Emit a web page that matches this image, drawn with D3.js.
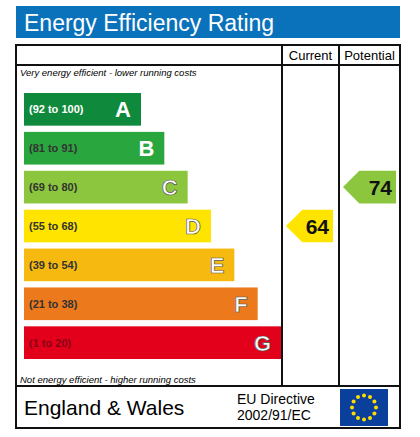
<!DOCTYPE html>
<html><head><meta charset="utf-8">
<script src="https://cdn.jsdelivr.net/npm/d3@7"></script>
<style>body{margin:0;background:#fff}svg{font-family:"Liberation Sans",Arial,sans-serif}</style>
</head><body>
<script>
// bands
const bands = ["A", "B", "C", "D", "E", "F", "G"];
const ranges = ["(92 to 100)", "(81 to 91)", "(69 to 80)", "(55 to 68)", "(39 to 54)", "(21 to 38)", "(1 to 20)"];
const bandMin = [92, 81, 69, 55, 39, 21, 1];
const colors = ["#0f8a3c", "#2aa63f", "#8cc63e", "#ffe400", "#f5b90f", "#ec7a1c", "#e2001a"];
const current = 64;
const potential = 74;

const width = 420, height = 437;
const svg = d3.select("body").append("svg").attr("width", width).attr("height", height);

// title
svg.append("rect").attr("x", 16).attr("y", 6).attr("width", 384).attr("height", 32).attr("fill", "#0a72bb");
svg.append("text").attr("x", 24).attr("y", 31).attr("fill", "#fff").attr("font-size", 23).text("Energy Efficiency Rating");

// frame
const fLeft = 16, fRight = 400, fTop = 45, fBottom = 428, c1 = 282, c2 = 339, hdr = 65, foot = 386;
const g = svg.append("g").attr("stroke", "#111").attr("stroke-width", 2).attr("fill", "none");
g.append("rect").attr("x", fLeft).attr("y", fTop).attr("width", fRight - fLeft).attr("height", fBottom - fTop);
g.append("line").attr("x1", fLeft).attr("x2", fRight).attr("y1", hdr).attr("y2", hdr);
g.append("line").attr("x1", fLeft).attr("x2", fRight).attr("y1", foot).attr("y2", foot);
g.append("line").attr("x1", c1).attr("x2", c1).attr("y1", fTop).attr("y2", foot);
g.append("line").attr("x1", c2).attr("x2", c2).attr("y1", fTop).attr("y2", foot);

svg.append("text").attr("x", (c1 + c2) / 2).attr("y", 60).attr("text-anchor", "middle").attr("font-size", 13).text("Current");
svg.append("text").attr("x", (c2 + fRight) / 2).attr("y", 60).attr("text-anchor", "middle").attr("font-size", 13).text("Potential");
svg.append("text").attr("x", 20).attr("y", 76).attr("font-size", 9.5).attr("font-style", "italic").text("Very energy efficient - lower running costs");
svg.append("text").attr("x", 20).attr("y", 383).attr("font-size", 9.5).attr("font-style", "italic").text("Not energy efficient - higher running costs");

// scales
const y = d3.scaleBand().domain(bands).range([93, 359]).paddingInner(0.16).paddingOuter(0);
const w = d3.scaleLinear().domain([0, 6]).range([141, 281]);

const rows = svg.selectAll("g.band").data(bands).join("g").attr("class", "band");
rows.append("rect").attr("x", 24).attr("y", d => y(d))
  .attr("width", (d, i) => w(i) - 24).attr("height", y.bandwidth())
  .attr("fill", (d, i) => colors[i]);
rows.append("text").attr("x", 29).attr("y", d => y(d) + y.bandwidth() / 2 + 4)
  .attr("font-size", 11).attr("font-weight", "bold")
  .attr("fill", (d, i) => i === 0 ? "#fff" : (i === 6 ? "#8a0015" : "#333"))
  .text((d, i) => ranges[i]);
rows.append("text").attr("x", (d, i) => w(i) - 10).attr("y", d => y(d) + y.bandwidth() / 2 + 8)
  .attr("text-anchor", "end").attr("font-size", 22).attr("font-weight", "bold")
  .attr("fill", "#fff").attr("stroke", (d, i) => i < 2 ? "none" : "#555").attr("stroke-width", 0.7)
  .text(d => d);

function bandOf(v) { return bandMin.findIndex(m => v >= m); }
function arrow(v, x0, x1) {
  const i = bandOf(v), yy = y(bands[i]), h = y.bandwidth();
  svg.append("path")
    .attr("d", `M${x0},${yy + h / 2} L${x0 + h / 2},${yy} L${x1},${yy} L${x1},${yy + h} L${x0 + h / 2},${yy + h} Z`)
    .attr("fill", colors[i]);
  svg.append("text").attr("x", x1 - 4).attr("y", yy + h / 2 + 8).attr("text-anchor", "end")
    .attr("font-size", 21).attr("font-weight", "bold").attr("fill", "#111").text(v);
}
arrow(current, c1 + 4, c2 - 6);
arrow(potential, c2 + 4, fRight - 4);

// footer
svg.append("text").attr("x", 24).attr("y", 415).attr("font-size", 21).text("England & Wales");
svg.append("text").attr("x", 237).attr("y", 404).attr("font-size", 14).text("EU Directive");
svg.append("text").attr("x", 237).attr("y", 420).attr("font-size", 14).text("2002/91/EC");
svg.append("rect").attr("x", 340).attr("y", 389).attr("width", 48).attr("height", 37).attr("fill", "#0a3f9c");
d3.range(12).forEach(k => {
  const a = k / 12 * 2 * Math.PI;
  svg.append("circle").attr("cx", 364 + 12 * Math.sin(a)).attr("cy", 407.5 - 12 * Math.cos(a)).attr("r", 2).attr("fill", "#ffdd00");
});
</script>
</body></html>
